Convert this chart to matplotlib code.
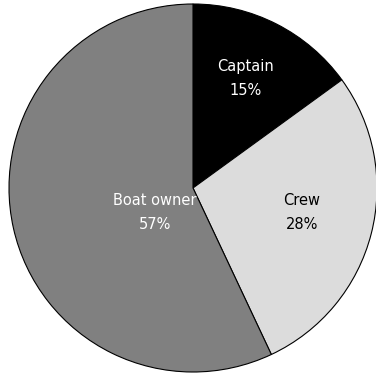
import matplotlib
matplotlib.use("Agg")
import matplotlib.pyplot as plt

categories = ["Captain", "Crew", "Boat owner"]
values = [15, 28, 57]
colors = ["#000000", "#dcdcdc", "#808080"]
text_colors = ["white", "black", "white"]
label_pos = [(0.283, 0.595), (0.592, -0.133), (-0.207, -0.133)]

fig = plt.figure(figsize=(3.76, 3.77), dpi=100)
ax = fig.add_axes([9/376, 5/377, 368/376, 368/377])
wedges, _ = ax.pie(values, colors=colors, startangle=90, counterclock=False,
                   radius=1, wedgeprops=dict(edgecolor="black", linewidth=0.8))
for cat, v, tc, (x, y) in zip(categories, values, text_colors, label_pos):
    ax.text(x, y, f"{cat}\n{v}%", ha="center", va="center", color=tc,
            fontsize=10.5, linespacing=1.75, family="DejaVu Sans")
ax.set_xlim(-1.0, 1.0)
ax.set_ylim(-1.0, 1.0)
ax.set_aspect("equal")
ax.axis("off")
fig.savefig("out.png", dpi=100)
